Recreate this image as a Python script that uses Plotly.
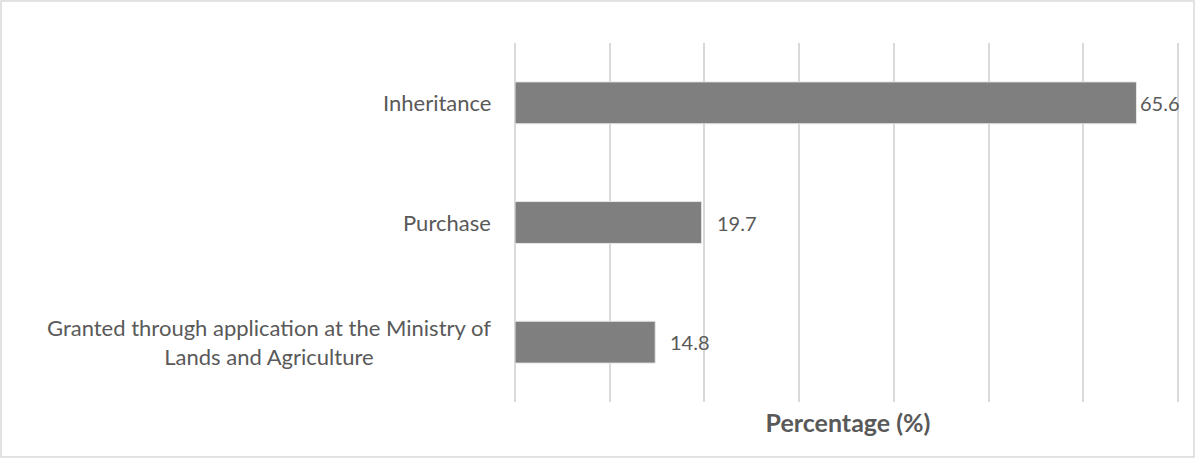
import plotly.graph_objects as go

categories = ["Inheritance", "Purchase", "Granted through application at the Ministry of<br>Lands and Agriculture"]
values = [65.6, 19.7, 14.8]
value_labels = ["65.6", "19.7", "14.8"]
x_title = "Percentage (%)"

W, H = 1195, 458
L, R, T, B = 515, 14, 43, 56
pw, ph = W - L - R, H - T - B

txt = "#595959"
font_family = "Lato, Carlito, Calibri, sans-serif"
label_gap = [4, 15, 15]

fig = go.Figure()
fig.add_trace(go.Bar(
    x=values, y=categories, orientation="h",
    marker=dict(color="#7f7f7f", line=dict(color="#e6e6e6", width=1)),
    width=0.35, hoverinfo="skip",
))

for c, v, lab, g in zip(categories, values, value_labels, label_gap):
    fig.add_annotation(
        x=0, xref="paper", y=c, yref="y", text=c, showarrow=False,
        xanchor="right", xshift=-22, align="center",
        font=dict(family=font_family, size=22, color=txt),
    )
    fig.add_annotation(
        x=v, xref="x", y=c, yref="y", text=lab, showarrow=False,
        xanchor="left", xshift=g - 2,
        font=dict(family=font_family, size=20, color=txt),
    )

fig.add_shape(
    type="rect", xref="paper", yref="paper",
    x0=(-L + 1) / pw, x1=1 + (R - 1) / pw,
    y0=(-B + 1) / ph, y1=1 + (T - 1) / ph,
    line=dict(color="#d9d9d9", width=1.5), layer="below",
)

fig.update_layout(
    width=W, height=H,
    margin=dict(l=L, r=R, t=T, b=B, pad=0),
    paper_bgcolor="white", plot_bgcolor="white",
    showlegend=False,
    font=dict(family=font_family, color=txt),
    xaxis=dict(
        range=[0, 70.3], tick0=0, dtick=10, showticklabels=False,
        showgrid=True, gridcolor="#d9d9d9", gridwidth=1.5,
        zeroline=True, zerolinecolor="#d9d9d9", zerolinewidth=1.5,
        showline=False, ticks="",
        title=dict(text="<b>" + x_title + "</b>", standoff=12,
                   font=dict(family=font_family, size=25, color=txt)),
    ),
    yaxis=dict(
        autorange="reversed", showticklabels=False, showgrid=False,
        zeroline=False, showline=False, ticks="",
    ),
)

fig.write_html("out.html", config={"displayModeBar": False},
               post_script="document.body.style.margin='0';document.body.style.overflow='hidden';")
